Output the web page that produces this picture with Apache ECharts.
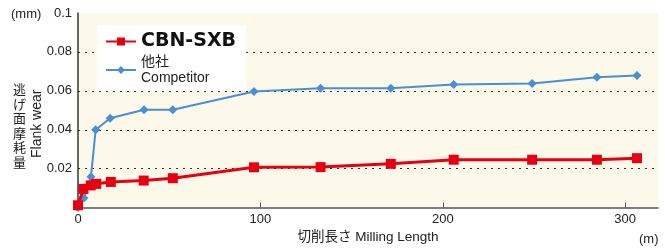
<!DOCTYPE html>
<html>
<head>
<meta charset="utf-8">
<script src="https://cdn.jsdelivr.net/npm/echarts@6/dist/echarts.min.js"></script>
<style>
  html, body { margin: 0; padding: 0; background: #fff; }
  #chart { width: 665px; height: 249px; }
</style>
</head>
<body>
<div id="chart"></div>
<script>
// milling length (m)
const sxbLength = [0, 3, 7, 10, 18, 36, 52, 96.5, 133, 171.5, 206, 249, 284.5, 306.5];
const sxbWear = [0.0012, 0.0096, 0.0114, 0.0122, 0.0132, 0.0139, 0.0151, 0.0207, 0.0208, 0.0225, 0.0246, 0.0246, 0.0246, 0.0254];

const compLength = [0, 3.3, 7.1, 9.7, 17.6, 36.2, 52, 96.5, 133, 171.5, 206, 249, 284.5, 306.5];
const compWear = [0, 0.0049, 0.0159, 0.040, 0.0459, 0.0503, 0.0503, 0.0597, 0.0613, 0.0613, 0.0633, 0.0638, 0.067, 0.0679];

const yTicks = ['', '0.02', '0.04', '0.06', '0.08', '0.1'];

const FONT = '"Liberation Sans", "Noto Sans CJK JP", sans-serif';
const RED = '#e60012';
const BLUE = '#4a8fd4';

const chart = echarts.init(document.getElementById('chart'), null, { renderer: 'canvas' });

const zip = (xs, ys) => xs.map((x, i) => [x, ys[i]]);

chart.setOption({
  animation: false,
  textStyle: { fontFamily: FONT },
  grid: {
    left: 78, right: 7, top: 13, bottom: 39,
    show: true, backgroundColor: '#fcf9ea', borderWidth: 0
  },
  legend: {
    left: 97, top: 25, orient: 'vertical',
    backgroundColor: '#fff',
    padding: [7, 10, 5, 8],
    itemWidth: 30, itemHeight: 10, itemGap: 3,
    data: [
      { name: 'CBN-SXB', textStyle: { fontSize: 19, fontWeight: 'bold', color: '#111', fontFamily: '"DejaVu Sans", sans-serif' } },
      { name: '他社\nCompetitor', textStyle: { fontSize: 14, lineHeight: 16, color: '#222', fontFamily: FONT } }
    ]
  },
  xAxis: {
    type: 'value', min: 0, max: 318, interval: 100,
    name: '切削長さ Milling Length', nameLocation: 'middle', nameGap: 22,
    nameTextStyle: { fontSize: 13.5, color: '#222', fontFamily: FONT },
    axisLine: { lineStyle: { color: '#555', width: 1.5 } },
    axisTick: { inside: true, length: 5, lineStyle: { color: '#555' } },
    axisLabel: { showMaxLabel: false, fontSize: 13, color: '#222', margin: 5 },
    splitLine: { show: false }
  },
  yAxis: {
    type: 'value', min: 0, max: 0.1, interval: 0.02,
    axisLine: { show: true, lineStyle: { color: '#333', width: 1.5 } },
    axisTick: { show: false },
    axisLabel: {
      fontSize: 13, color: '#222', margin: 6,
      formatter: (v) => yTicks[Math.round(v / 0.02)]
    },
    splitLine: {
      show: true,
      lineStyle: {
        type: [2, 5], width: 1,
        color: ['transparent', '#333', '#333', '#333', '#333', 'transparent']
      }
    }
  },
  graphic: [
    { type: 'text', left: 11, top: 8, style: { text: '(mm)', font: '13px ' + FONT, fill: '#222' } },
    { type: 'text', left: 639, top: 233, style: { text: '(m)', font: '13px ' + FONT, fill: '#222' } },
    {
      type: 'text', left: 13, top: 82,
      style: { text: '逃\nげ\n面\n摩\n耗\n量', font: '13px "Noto Sans CJK JP"', lineHeight: 14.5, fill: '#222' }
    },
    {
      type: 'text', x: 30, y: 158, rotation: Math.PI / 2,
      style: { text: 'Flank wear', font: '14px ' + FONT, fill: '#222' }
    }
  ],
  series: [
    {
      name: 'CBN-SXB', type: 'line', z: 10,
      data: zip(sxbLength, sxbWear),
      symbol: 'rect', symbolSize: 10,
      lineStyle: { color: RED, width: 3 },
      itemStyle: { color: RED }
    },
    {
      name: '他社\nCompetitor', type: 'line', z: 5,
      data: zip(compLength, compWear),
      symbol: 'diamond', symbolSize: 9,
      lineStyle: { color: BLUE, width: 2 },
      itemStyle: { color: BLUE }
    }
  ]
});
</script>
</body>
</html>
